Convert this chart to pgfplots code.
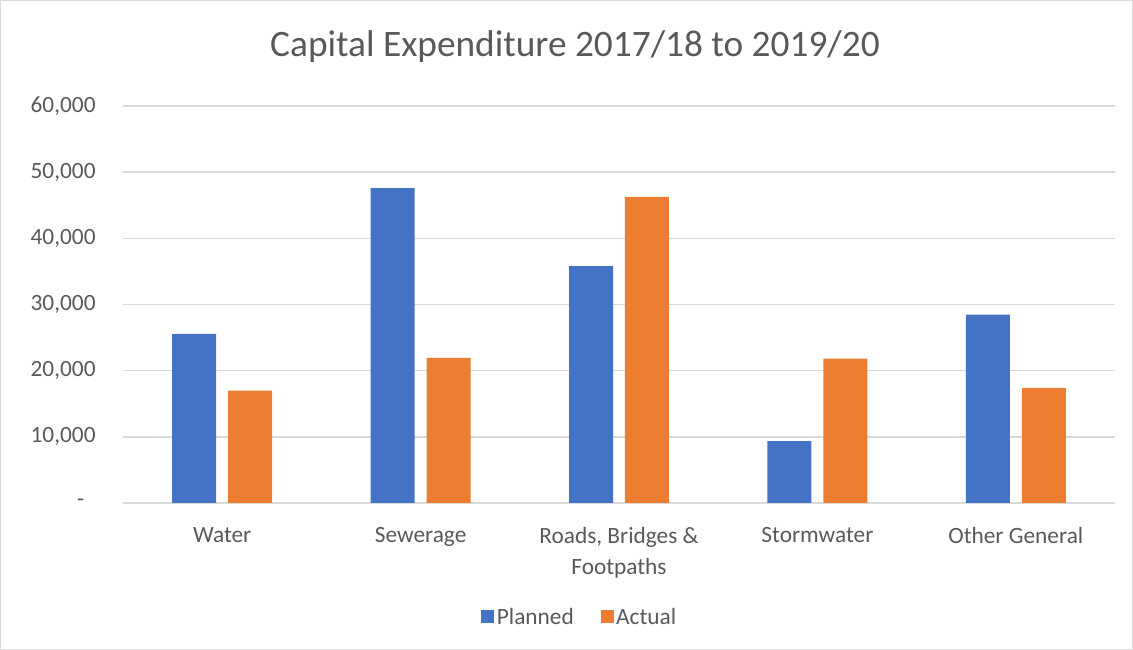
\documentclass[border=0pt]{standalone}
\usepackage{pgfplots}
\pgfplotsset{compat=1.18}
\usepackage{fontspec}
\setmainfont{Carlito}
\definecolor{cblue}{HTML}{4472C4}
\definecolor{corange}{HTML}{ED7D31}
\definecolor{ctext}{HTML}{595959}
\definecolor{cgrid}{HTML}{D9D9D9}
\begin{document}
\begin{tikzpicture}[x=0.75pt,y=0.75pt]
\draw[cgrid, line width=0.75pt] (0.5,0.5) rectangle (1132.5,649.5);
\node[text=ctext, font=\fontsize{28}{33}\selectfont] at (575,650-47) {Capital Expenditure 2017/18 to 2019/20};
\begin{axis}[
  at={(92.25pt,110.25pt)}, anchor=south west,
  scale only axis, width=744pt, height=297.75pt,
  xmin=-0.5, xmax=4.5, ymin=0, ymax=60000,
  axis line style={draw=none},
  axis x line*=bottom, axis y line*=left,
  scaled y ticks=false,
  ytick={0,10000,20000,30000,40000,50000,60000},
  yticklabels={{-\rule{8.5pt}{0pt}},{10,000},{20,000},{30,000},{40,000},{50,000},{60,000}},
  xtick={0,1,2,3,4},
  xticklabels={{Water},{Sewerage},{Roads, Bridges \&\\Footpaths},{Stormwater},{Other General}},
  major tick length=0pt,
  ymajorgrids, grid style={cgrid, line width=1.2pt},
  tick label style={text=ctext, font=\fontsize{17.5}{23.25}\selectfont},
  xticklabel style={align=center, yshift=-14.5pt},
  yticklabel style={xshift=-17pt},
  legend style={at={(0.4607,-0.287)}, anchor=center, draw=none, fill=none,
    legend columns=2, font=\fontsize{17.5}{21}\selectfont, text=ctext,
    /tikz/every even column/.append style={column sep=18pt}},
  bar width=0.222, ybar,
  clip=false,
]
\draw[cgrid, line width=1.2pt] (axis cs:-0.5,0) -- (axis cs:4.5,0);
\addplot[fill=cblue, draw=none, bar shift=-0.141,
  legend image code/.code={\fill[cblue] (0pt,-4.6pt) rectangle (9.8pt,5.2pt);}]
  coordinates {(0,25550) (1,47600) (2,35800) (3,9360) (4,28470)};
\addplot[fill=corange, draw=none, bar shift=0.141,
  legend image code/.code={\fill[corange] (0pt,-4.6pt) rectangle (9.8pt,5.2pt);}]
  coordinates {(0,17000) (1,21930) (2,46280) (3,21830) (4,17400)};
\legend{Planned,Actual}
\end{axis}
\end{tikzpicture}
\end{document}
